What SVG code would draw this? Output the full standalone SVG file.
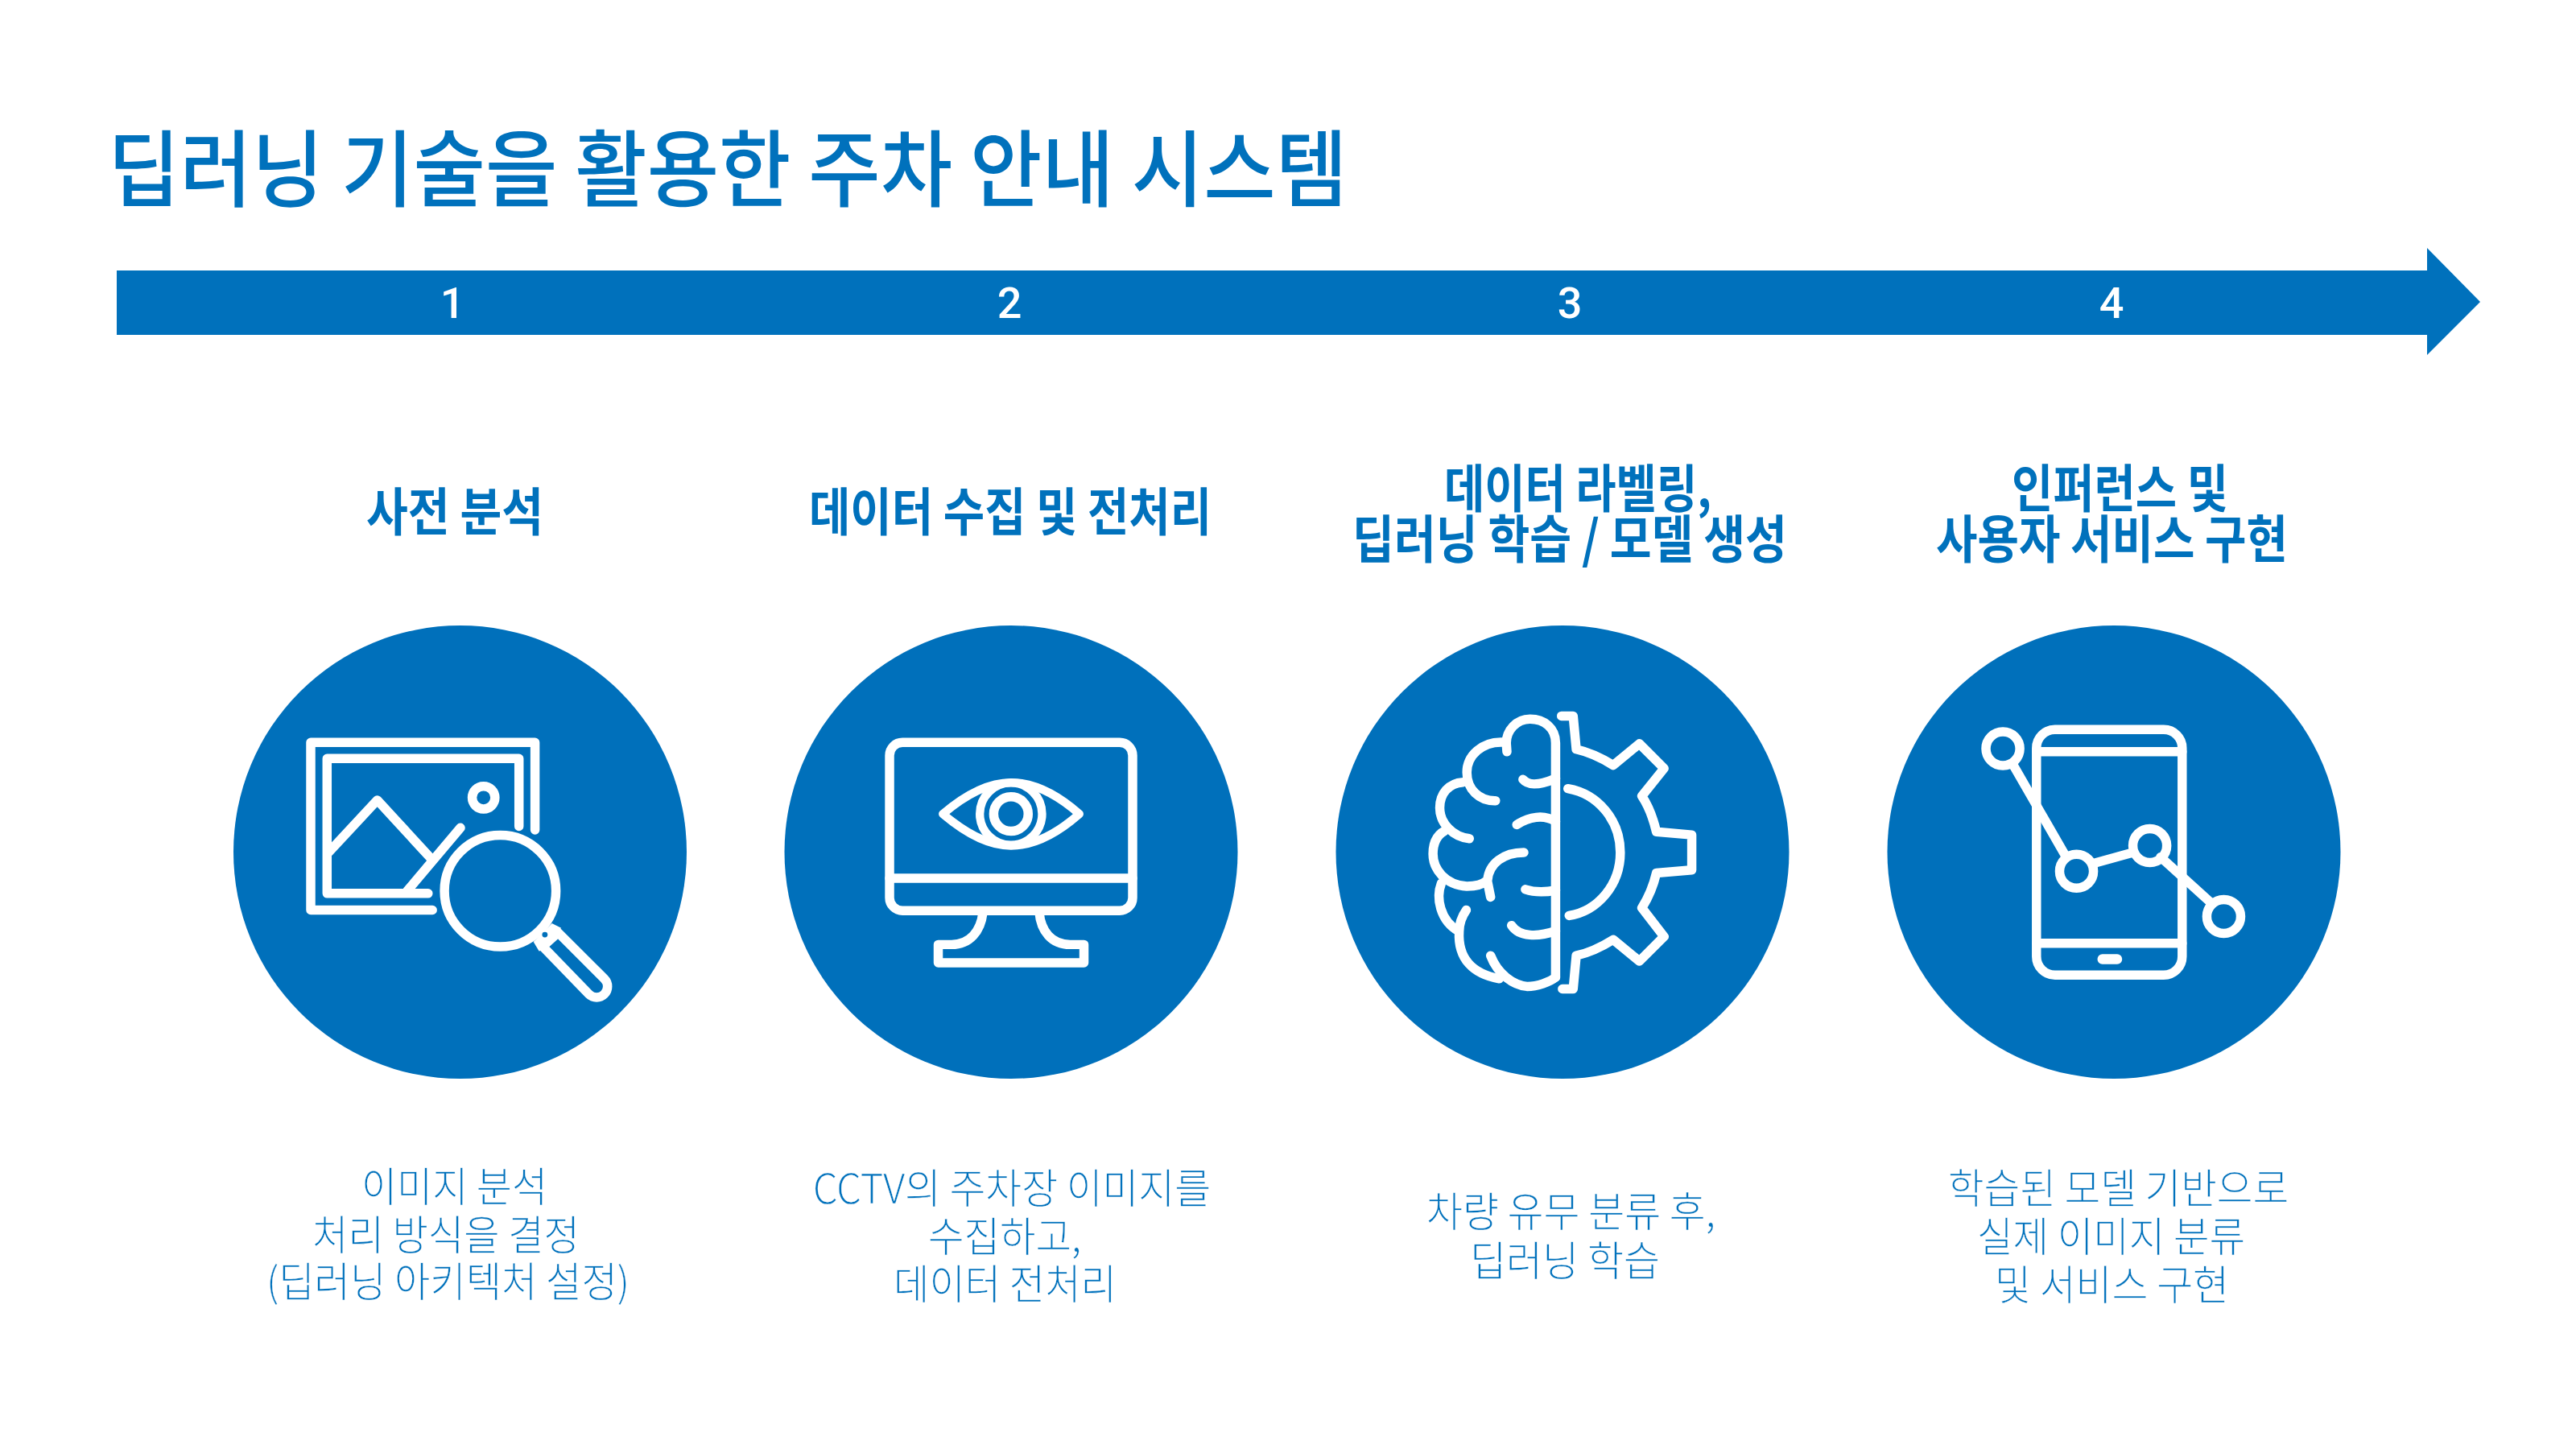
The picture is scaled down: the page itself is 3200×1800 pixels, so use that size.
<svg xmlns="http://www.w3.org/2000/svg" width="3200" height="1800" viewBox="0 0 3200 1800">
<style>
text{font-family:"Noto Sans CJK KR","Noto Sans",sans-serif;fill:#0071bc}
.title{font-size:104px;font-weight:500}
.head{font-size:64px;font-weight:700}
.body{font-size:51px;font-weight:300;stroke:#fff;stroke-width:0.35px}
.num{font-family:Roboto,sans-serif;font-size:54px;fill:#fff;text-anchor:middle;font-weight:500}
.disc{fill:#0070bb}
.ic{fill:none;stroke:#fff;stroke-width:30;stroke-linecap:round;stroke-linejoin:round}
.wf{fill:#fff;stroke:none}
</style>
<rect width="3200" height="1800" fill="#fff"/>
<g id="title"><text class="title" x="134" y="249" textLength="1540" lengthAdjust="spacingAndGlyphs">딥러닝 기술을 활용한 주차 안내 시스템</text></g>
<g id="connectors">
<polygon points="145,336 3015,336 3015,308 3081,375 3015,441 3015,416 145,416" fill="#0071bc"/>
</g>
<g id="step-1">
<text class="num" x="562" y="395">1</text>
<text class="head" x="455" y="659" textLength="220" lengthAdjust="spacingAndGlyphs">사전 분석</text>
<circle class="disc" cx="571.5" cy="1058.5" r="281.5"/>
<g transform="translate(280,770) scale(0.3827)">
<path class="ic" d="M1005,682V398H277V942H672M953,670V450H330V888H658M335,755L493,585L663,770M763,675L590,880"/>
<circle class="ic" cx="838" cy="577" r="37"/>
<circle class="ic" cx="892" cy="880" r="181"/>
<path class="ic" d="M1030,1060L1180,1215A35,35 0 0 0 1230,1165L1080,1015Z"/>
<polygon class="wf" points="1000,1045 1060,985 1090,1000 1040,1070 1018,1075"/>
<circle cx="1037" cy="1022" r="9" fill="#0070bb"/>
</g>
<text class="body" x="449" y="1493" textLength="231" lengthAdjust="spacingAndGlyphs">이미지 분석</text>
<text class="body" x="388" y="1553" textLength="332" lengthAdjust="spacingAndGlyphs">처리 방식을 결정</text>
<text class="body" x="331" y="1611" textLength="451" lengthAdjust="spacingAndGlyphs">(딥러닝 아키텍처 설정)</text>
</g>
<g id="step-2">
<text class="num" x="1254" y="395">2</text>
<text class="head" x="1005" y="659" textLength="500" lengthAdjust="spacingAndGlyphs">데이터 수집 및 전처리</text>
<circle class="disc" cx="1256" cy="1058.5" r="281.5"/>
<g transform="translate(960,770) scale(0.3827)">
<rect class="ic" x="379" y="398" width="789" height="546" rx="42"/>
<path class="ic" d="M379,839H1168M682,950C675,1010 640,1054 580,1054H537V1113H1010V1054H965C905,1054 870,1010 865,950"/>
<path class="ic" style="stroke-width:27" d="M552,630C640,555 710,528 773,528C840,528 910,555 995,630C910,705 840,733 773,733C710,733 640,705 552,630Z"/>
<circle class="ic" style="stroke-width:27" cx="773" cy="630" r="101"/>
<circle class="ic" cx="773" cy="630" r="56"/>
</g>
<text class="body" x="1010" y="1495" textLength="494" lengthAdjust="spacingAndGlyphs">CCTV의 주차장 이미지를</text>
<text class="body" x="1153" y="1555" textLength="190" lengthAdjust="spacingAndGlyphs">수집하고,</text>
<text class="body" x="1110" y="1614" textLength="277" lengthAdjust="spacingAndGlyphs">데이터 전처리</text>
</g>
<g id="step-3">
<text class="num" x="1950" y="395">3</text>
<text class="head" x="1794" y="630" textLength="332" lengthAdjust="spacingAndGlyphs">데이터 라벨링,</text>
<text class="head" x="1680" y="693" textLength="540" lengthAdjust="spacingAndGlyphs">딥러닝 학습 / 모델 생성</text>
<circle class="disc" cx="1941" cy="1058.5" r="281.5"/>
<g transform="translate(1650,770) scale(0.3827)">
<path class="ic" d="M738,1160V400C738,350 700,322 655,322C610,322 578,360 578,400L580,428"/>
<path class="ic" d="M565,397C500,395 450,440 450,495C450,550 490,588 543,587"/>
<path class="ic" d="M438,527C390,530 362,565 362,610C362,660 405,705 458,710"/>
<path class="ic" d="M378,685C350,700 340,730 340,760C340,810 380,860 450,865C470,865 500,860 517,845C522,790 570,755 635,755M517,850L527,900"/>
<path class="ic" d="M367,855C350,900 360,975 425,1012C420,1100 470,1150 555,1165M448,942C432,965 425,990 425,1012"/>
<path class="ic" d="M527,1090C550,1150 600,1185 645,1190C680,1190 720,1175 738,1160"/>
<path class="ic" d="M632,518C650,540 690,535 738,515M612,665C650,640 700,630 738,655M640,875C670,885 700,885 738,878M595,992C620,1030 680,1030 738,1010"/>
<path class="ic" d="M757,312H795L805,420C850,430 890,450 925,472L1010,402L1090,482L1018,572C1040,605 1055,645 1065,688L1180,698V812L1065,822C1055,865 1040,900 1018,935L1090,1028L1010,1108L925,1038C890,1060 850,1080 805,1090L795,1198H760"/>
<path class="ic" d="M778,548C875,565 948,650 948,755C948,860 875,945 782,960"/>
</g>
<text class="body" x="1772" y="1524" textLength="359" lengthAdjust="spacingAndGlyphs">차량 유무 분류 후,</text>
<text class="body" x="1826" y="1585" textLength="236" lengthAdjust="spacingAndGlyphs">딥러닝 학습</text>
</g>
<g id="step-4">
<text class="num" x="2623" y="395">4</text>
<text class="head" x="2499" y="630" textLength="269" lengthAdjust="spacingAndGlyphs">인퍼런스 및</text>
<text class="head" x="2405" y="693" textLength="437" lengthAdjust="spacingAndGlyphs">사용자 서비스 구현</text>
<circle class="disc" cx="2626" cy="1058.5" r="281.5"/>
<g transform="translate(2330,770) scale(0.3827)">
<rect class="ic" x="522" y="356" width="473" height="797" rx="60"/>
<path class="ic" d="M522,428H995M522,1050H995M447,472L617,767M710,790L835,755M925,770L1090,920"/>
<rect class="wf" x="720" y="1085" width="80" height="33" rx="16"/>
<circle class="ic" cx="413" cy="418" r="55"/>
<circle class="ic" cx="652" cy="816" r="55"/>
<circle class="ic" cx="890" cy="733" r="55"/>
<circle class="ic" cx="1130" cy="963" r="55"/>
</g>
<text class="body" x="2420" y="1495" textLength="423" lengthAdjust="spacingAndGlyphs">학습된 모델 기반으로</text>
<text class="body" x="2456" y="1555" textLength="333" lengthAdjust="spacingAndGlyphs">실제 이미지 분류</text>
<text class="body" x="2478" y="1615" textLength="291" lengthAdjust="spacingAndGlyphs">및 서비스 구현</text>
</g>
</svg>
